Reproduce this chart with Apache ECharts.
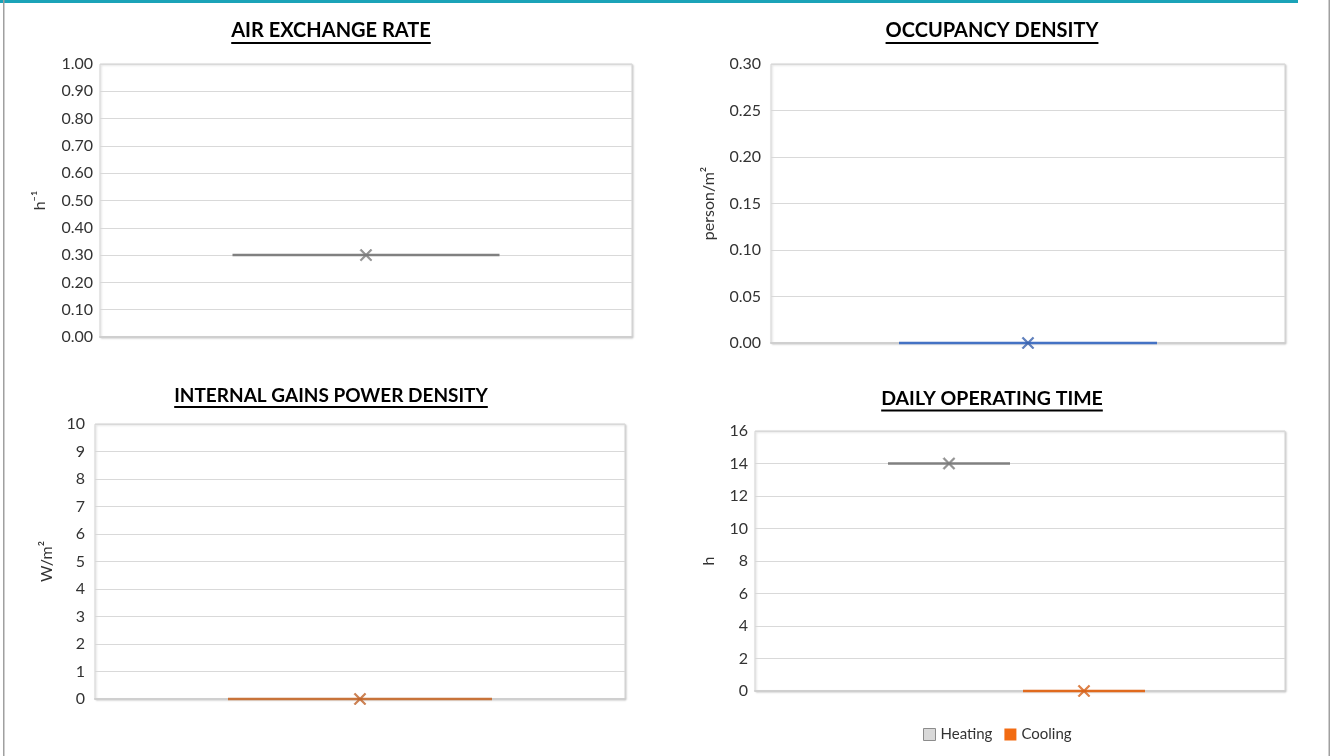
<!DOCTYPE html>
<html>
<head>
<meta charset="utf-8">
<script src="https://cdn.jsdelivr.net/npm/echarts@6/dist/echarts.min.js"></script>
<style>
  html, body { margin: 0; padding: 0; background: #fff; }
  #chart-box { width: 1333px; height: 756px; }
</style>
</head>
<body>
<div id="chart-box"></div>
<script>
// values (box = min, Q1, median, Q3, max)
var airExchange = [0.3, 0.3, 0.3, 0.3, 0.3];
var airExchangeMean = 0.3;
var occupancy = [0, 0, 0, 0, 0];
var occupancyMean = 0;
var internalGains = [0, 0, 0, 0, 0];
var internalGainsMean = 0;
var heatingHours = [14, 14, 14, 14, 14];
var heatingHoursMean = 14;
var coolingHours = [0, 0, 0, 0, 0];
var coolingHoursMean = 0;

var titles = ["AIR EXCHANGE RATE", "OCCUPANCY DENSITY", "INTERNAL GAINS POWER DENSITY", "DAILY OPERATING TIME"];
var units = ["h⁻¹", "person/m²", "W/m²", "h"];
var legendNames = ["Heating", "Cooling"];
// y tick labels: max, step, decimals
var yMax = [1, 0.3, 10, 16];
var yStep = [0.1, 0.05, 1, 2];
var yDecimals = [2, 2, 0, 0];

var FONT = "Lato, 'Noto Sans', sans-serif";
var xMark = "path://M1,0 L5,4 L9,0 L10,1 L6,5 L10,9 L9,10 L5,6 L1,10 L0,9 L4,5 L0,1 Z";

// plot areas
var plots = [
    { left: 100, top: 64, width: 532, height: 273, gap: 52, margin: 7 },
    { left: 771, top: 64, width: 514, height: 279, gap: 54, margin: 10 },
    { left: 95, top: 424, width: 530, height: 275, gap: 40, margin: 10 },
    { left: 755, top: 431, width: 530, height: 260, gap: 38, margin: 7 }
];
// title placement: center x, top y, font size
var titlePos = [
    { x: 331, y: 21, size: 20 },
    { x: 992, y: 21, size: 20 },
    { x: 331, y: 386, size: 19 },
    { x: 992, y: 389, size: 19.5 }
];

var measureCtx = document.createElement("canvas").getContext("2d");
function textWidth(txt, size) {
    measureCtx.font = "bold " + size + "px " + FONT;
    return measureCtx.measureText(txt).width;
}

var grids = [], xAxes = [], yAxes = [], titleList = [], graphics = [];

plots.forEach(function (p, i) {
    grids.push({
        left: p.left, top: p.top, width: p.width, height: p.height,
        show: true, backgroundColor: "#fff", borderColor: "#d4d4d4", borderWidth: 1,
        shadowColor: "rgba(0,0,0,0.18)", shadowBlur: 2, shadowOffsetX: 1, shadowOffsetY: 1
    });
    xAxes.push({
        type: "category", gridIndex: i, data: [""],
        axisLine: { show: true, lineStyle: { color: "#cfcfcf", width: 2 } },
        axisTick: { show: false }, axisLabel: { show: false }
    });
    yAxes.push({
        type: "value", gridIndex: i, min: 0, max: yMax[i], interval: yStep[i],
        name: units[i], nameLocation: "middle", nameGap: p.gap,
        nameTextStyle: { fontFamily: FONT, fontSize: 16, color: "#333" },
        axisLine: { show: false }, axisTick: { show: false },
        axisLabel: {
            fontFamily: FONT, fontSize: 16, color: "#333", margin: p.margin,
            formatter: function (v) { return v.toFixed(yDecimals[i]); }
        },
        splitLine: { lineStyle: { color: "#d9d9d9", width: 1 } }
    });
    var t = titlePos[i];
    titleList.push({
        text: titles[i], left: t.x, top: t.y, textAlign: "center", padding: 0,
        textStyle: { fontFamily: FONT, fontSize: t.size, fontWeight: "bold", color: "#000" }
    });
    var w = textWidth(titles[i], t.size);
    graphics.push({
        type: "rect", z: 100,
        shape: { x: t.x - w / 2, y: t.y + t.size + 1, width: w, height: 2 },
        style: { fill: "#000" }
    });
});

// hidden grids holding the two side-by-side boxes of the last chart
[{ left: 888, width: 122 }, { left: 1023, width: 122 }].forEach(function (g, k) {
    var gi = grids.length;
    grids.push({ left: g.left, width: g.width, top: plots[3].top, height: plots[3].height });
    xAxes.push({ type: "category", gridIndex: gi, data: [legendNames[k]], show: false });
    yAxes.push({ type: "value", gridIndex: gi, min: 0, max: yMax[3], show: false });
});

// page frame
graphics.push(
    { type: "rect", shape: { x: 0, y: 0, width: 1298, height: 3 }, style: { fill: "#1ba3b8" } },
    { type: "rect", shape: { x: 3, y: 0, width: 1.5, height: 756 }, style: { fill: "#a0a0a0" } },
    { type: "rect", shape: { x: 1328.5, y: 0, width: 1.5, height: 756 }, style: { fill: "#a0a0a0" } }
);

function boxSeries(name, idx, values, width, line, fill) {
    return {
        name: name, type: "boxplot", xAxisIndex: idx, yAxisIndex: idx,
        boxWidth: [width, width], data: [values],
        itemStyle: { color: fill, borderColor: line, borderWidth: 2.5 }
    };
}
function meanSeries(name, idx, mean, color) {
    return {
        name: name, type: "scatter", xAxisIndex: idx, yAxisIndex: idx,
        symbol: xMark, symbolSize: 12, data: [[0, mean]],
        itemStyle: { color: color, borderColor: color, borderWidth: 0.6 }, z: 5
    };
}

var myChart = echarts.init(document.getElementById("chart-box"));
var option = {
    animation: false,
    title: titleList,
    grid: grids,
    xAxis: xAxes,
    yAxis: yAxes,
    graphic: graphics,
    legend: {
        left: 918, top: 722, itemWidth: 12, itemHeight: 12, itemGap: 12,
        textStyle: { fontFamily: FONT, fontSize: 15, color: "#333" },
        data: [
            { name: legendNames[0], icon: "rect", itemStyle: { color: "#d9d9d9", borderColor: "#8c8c8c", borderWidth: 1 } },
            { name: legendNames[1], icon: "rect", itemStyle: { color: "#f26b12", borderColor: "#f26b12", borderWidth: 0 } }
        ]
    },
    series: [
        boxSeries("Air exchange", 0, airExchange, 267, "#808080", "#d9d9d9"),
        meanSeries("Air exchange", 0, airExchangeMean, "#7a7a7a"),
        boxSeries("Occupancy", 1, occupancy, 258, "#4472c4", "#4472c4"),
        meanSeries("Occupancy", 1, occupancyMean, "#3a62ad"),
        boxSeries("Internal gains", 2, internalGains, 264, "#c8733a", "#c8733a"),
        meanSeries("Internal gains", 2, internalGainsMean, "#c0642a"),
        boxSeries(legendNames[0], 4, heatingHours, 122, "#808080", "#d9d9d9"),
        meanSeries(legendNames[0], 4, heatingHoursMean, "#7a7a7a"),
        boxSeries(legendNames[1], 5, coolingHours, 122, "#e06a1e", "#f26b12"),
        meanSeries(legendNames[1], 5, coolingHoursMean, "#d5611a")
    ]
};
myChart.setOption(option);
</script>
</body>
</html>
